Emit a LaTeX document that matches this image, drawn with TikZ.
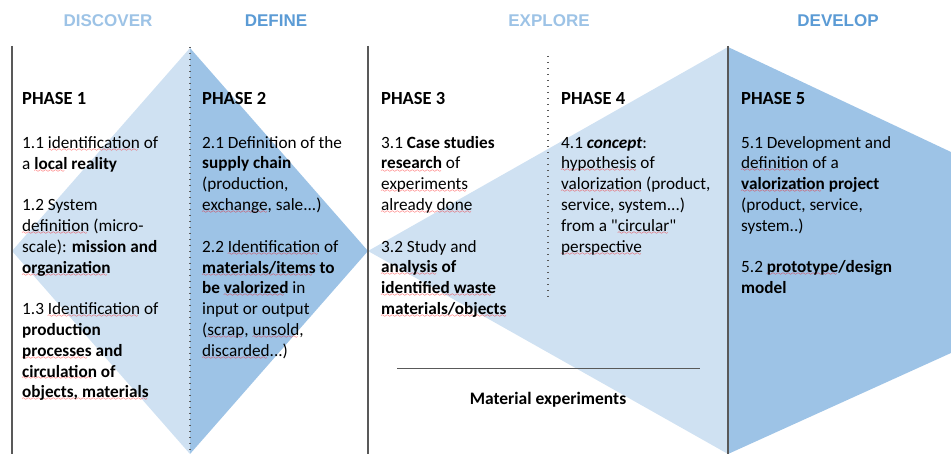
\documentclass[tikz,border=0pt]{standalone}
\usepackage{fontspec}
\setmainfont{Carlito}
\newfontfamily\headfont{Liberation Sans}
\definecolor{lightfill}{HTML}{CFE1F2}
\definecolor{darkfill}{HTML}{9DC3E6}
\definecolor{lighthead}{HTML}{9DC3E6}
\definecolor{darkhead}{HTML}{5B9BD5}
\definecolor{rulegray}{HTML}{595959}
\font\wavefont=lasy6 \relax
\newsavebox\sqbox
\newcommand\bodyfont{\fontsize{17.2}{20.8}\selectfont}
\newcommand\sq[1]{\sbox\sqbox{#1}\rlap{\lower3pt\hbox to \wd\sqbox{\color{red}\wavefont\leaders\hbox{\char58}\hfil}}\usebox\sqbox}
\newcommand\gap{\\[20.8pt]}
\newcommand\qt{\XeTeXglyph\XeTeXcharglyph"22\relax}
\tikzset{
  stagehead/.style={anchor=base, inner sep=0pt, font=\headfont\bfseries\fontsize{17}{20}\selectfont},
  phasehead/.style={anchor=base west, inner sep=0pt, font=\bfseries\fontsize{18.5}{21}\selectfont},
  phasetext/.style={anchor=north west, inner sep=0pt, align=left, font=\bodyfont},
  divider/.style={rulegray, line width=1.6pt},
  dotdiv/.style={rulegray, line width=1.4pt, dash pattern=on 1.4pt off 4.6pt},
}
\begin{document}
\begin{tikzpicture}[x=1pt,y=-1pt]
\useasboundingbox (0,0) rectangle (951,454);
% coloured diamond, triangle and arrow
\fill[lightfill] (12,251) -- (190,48) -- (190,454) -- cycle;
\fill[darkfill] (190,48) -- (368,251) -- (190,454) -- cycle;
\fill[lightfill] (368,251) -- (728,47) -- (728,454) -- cycle;
\fill[darkfill] (728,47) -- (951,152) -- (951,353) -- (728,454) -- cycle;
% column rules
\draw[divider] (12,46) -- (12,454);
\draw[divider] (368,46) -- (368,454);
\draw[divider] (728,46) -- (728,454);
\draw[dotdiv] (190,47) -- (190,454);
\draw[dotdiv] (548,56) -- (548,298);
\draw[rulegray, line width=0.8pt] (397,368) -- (700,368);
% stage titles
\node[stagehead, text=lighthead] (discover) at (108,27) {DISCOVER};
\node[stagehead, text=darkhead] (define) at (276,27) {DEFINE};
\node[stagehead, text=lighthead] (explore) at (549,27) {EXPLORE};
\node[stagehead, text=darkhead] (develop) at (838,27) {DEVELOP};
% phases
\node[phasehead] (phase1) at (22,105) {PHASE 1};
\node[phasehead] (phase2) at (202,105) {PHASE 2};
\node[phasehead] (phase3) at (381,105) {PHASE 3};
\node[phasehead] (phase4) at (561,105) {PHASE 4};
\node[phasehead] (phase5) at (741,105) {PHASE 5};
\node[phasetext] (text1) at (22,133.44) {\strut 1.1 \sq{identification} of\\
  a \textbf{\sq{local} reality}\gap
  1.2 System\\
  \sq{definition} (micro-\\
  scale): \textbf{mission and}\\
  \textbf{\sq{organization}}\gap
  1.3 \sq{Identification} of\\
  \textbf{production}\\
  \textbf{\sq{processes} and}\\
  \textbf{\sq{circulation} of}\\
  \textbf{\sq{objects, materials}}};
\node[phasetext] (text2) at (202,133.44) {\strut 2.1 Definition of the\\
  \textbf{supply chain}\\
  (production,\\
  \sq{exchange}, sale...)\gap
  2.2 \sq{Identification} of\\
  \textbf{\sq{materials/items} to}\\
  \textbf{be \sq{valorized}} in\\
  input or output\\
  (\sq{scrap}, \sq{unsold},\\
  \sq{discarded}...)};
\node[phasetext] (text3) at (381,133.44) {\strut 3.1 \textbf{Case studies}\\
  \textbf{\sq{research}} of\\
  \sq{experiments}\\
  \sq{already done}\gap
  3.2 Study and\\
  \textbf{\sq{analysis} of}\\
  \textbf{\sq{identified waste}}\\
  \textbf{\sq{materials/objects}}};
\node[phasetext] (text4) at (561,133.44) {\strut 4.1 \textbf{\textit{concept}}:\\
  \sq{hypothesis} of\\
  \sq{valorization} (product,\\
  service, system...)\\
  from a \qt\sq{circular}\qt\\
  \sq{perspective}};
\node[phasetext] (text5) at (741,133.44) {\strut 5.1 Development and\\
  \sq{definition} of a\\
  \textbf{\sq{valorization} project}\\
  (product, service,\\
  system..)\gap
  5.2 \textbf{\sq{prototype}/design}\\
  \textbf{model}};
\node[phasehead, anchor=base, font=\bfseries\fontsize{17.5}{21}\selectfont] (matexp) at (548,404) {Material experiments};
\end{tikzpicture}
\end{document}
